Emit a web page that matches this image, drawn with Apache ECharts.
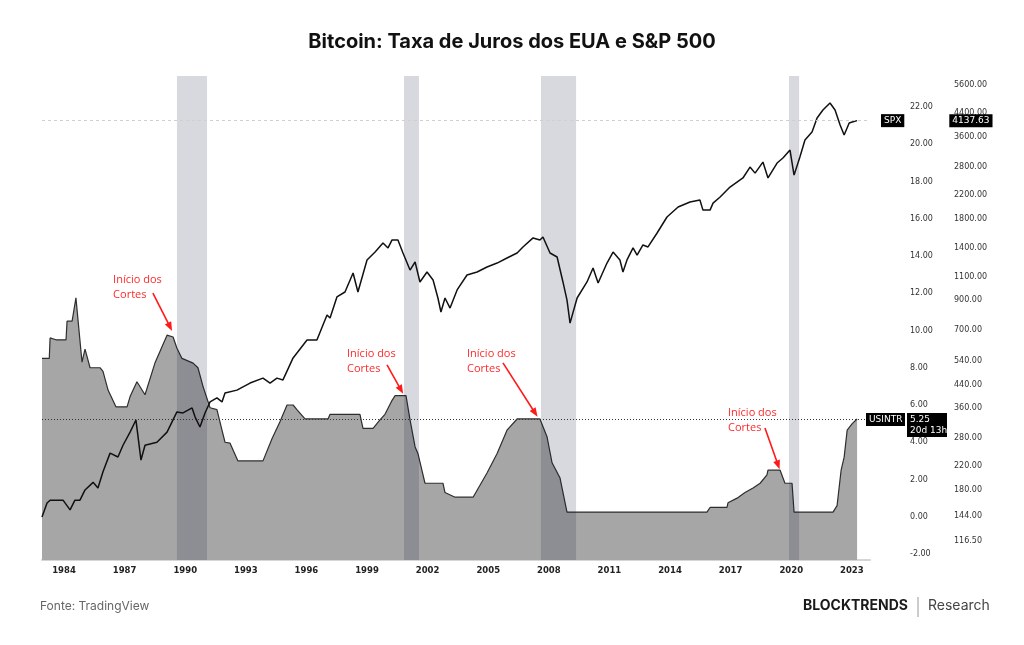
<!DOCTYPE html>
<html>
<head>
<meta charset="utf-8">
<title>Bitcoin: Taxa de Juros dos EUA e S&P 500</title>
<script src="https://cdn.jsdelivr.net/npm/echarts@6/dist/echarts.min.js"></script>
<style>
  html, body { margin: 0; padding: 0; background: #fff; }
  #main { width: 1024px; height: 645px; }
</style>
</head>
<body>
<div id="main"></div>
<script>
// taxa de juros dos EUA (USINTR), anos decimais
var rateYears = [1982.91, 1983.27, 1983.31, 1983.60, 1984.10, 1984.15, 1984.40, 1984.59, 1984.89, 1985.04,
  1985.29, 1985.78, 1985.93, 1986.18, 1986.57, 1987.12, 1987.27, 1987.61, 1988.01, 1988.50,
  1989.10, 1989.40, 1989.59, 1989.84, 1990.39, 1990.63, 1990.88, 1991.23, 1991.57, 1991.82,
  1991.97, 1992.22, 1992.61, 1993.85, 1994.30, 1994.69, 1995.04, 1995.34, 1995.53, 1995.93,
  1997.07, 1997.17, 1998.65, 1998.80, 1999.30, 1999.64, 1999.89, 2000.24, 2000.39, 2000.93,
  2001.13, 2001.38, 2001.52, 2001.87, 2002.76, 2002.86, 2003.36, 2004.25, 2004.94, 2005.44,
  2005.93, 2006.43, 2007.56, 2007.91, 2008.16, 2008.55, 2008.90, 2015.83, 2015.98, 2016.82,
  2016.87, 2017.32, 2017.71, 2018.11, 2018.46, 2018.80, 2018.85, 2019.45, 2019.69, 2020.04,
  2020.14, 2022.07, 2022.27, 2022.47, 2022.62, 2022.77, 2023.02, 2023.26];
var rateValues = [8.5, 8.5, 9.6, 9.5, 9.5, 10.5, 10.5, 11.75, 8.3, 9.0,
  8.0, 8.0, 7.8, 6.8, 5.9, 5.9, 6.45, 7.25, 6.55, 8.25,
  9.75, 9.65, 9.05, 8.5, 8.25, 8.0, 7.0, 5.85, 5.75, 4.65,
  4.0, 3.95, 3.0, 3.0, 4.2, 5.1, 6.0, 6.0, 5.75, 5.25,
  5.25, 5.5, 5.5, 4.75, 4.75, 5.2, 5.5, 6.25, 6.5, 6.5,
  5.2, 3.75, 3.4, 1.8, 1.8, 1.3, 1.05, 1.05, 2.35, 3.4,
  4.65, 5.25, 5.25, 4.3, 2.9, 2.1, 0.25, 0.25, 0.5, 0.5,
  0.75, 1.0, 1.3, 1.55, 1.8, 2.25, 2.5, 2.5, 1.8, 1.8,
  0.25, 0.25, 0.6, 2.5, 3.2, 4.65, 5.0, 5.25];

// S&P 500 (SPX)
var spxYears = [1982.91, 1983.16, 1983.31, 1983.95, 1984.30, 1984.54, 1984.79, 1985.04, 1985.44, 1985.68,
  1985.93, 1986.28, 1986.67, 1986.92, 1987.27, 1987.56, 1987.81, 1988.01, 1988.60, 1989.10,
  1989.59, 1989.89, 1990.34, 1990.49, 1990.73, 1990.98, 1991.23, 1991.57, 1991.82, 1991.97,
  1992.56, 1993.21, 1993.85, 1994.20, 1994.54, 1994.84, 1995.34, 1996.03, 1996.52, 1997.02,
  1997.17, 1997.51, 1997.91, 1998.31, 1998.55, 1999.00, 1999.40, 1999.79, 2000.04, 2000.24,
  2000.53, 2000.78, 2001.13, 2001.38, 2001.62, 2001.97, 2002.27, 2002.51, 2002.66, 2002.86,
  2003.11, 2003.46, 2003.95, 2004.45, 2004.94, 2005.44, 2005.93, 2006.43, 2006.72, 2007.22,
  2007.56, 2007.71, 2008.06, 2008.41, 2008.70, 2008.90, 2009.05, 2009.40, 2009.89, 2010.19,
  2010.44, 2010.88, 2011.18, 2011.52, 2011.67, 2011.87, 2012.17, 2012.37, 2012.66, 2012.91,
  2013.36, 2013.85, 2014.40, 2014.99, 2015.48, 2015.63, 2015.98, 2016.13, 2016.48, 2016.97,
  2017.61, 2017.96, 2018.21, 2018.60, 2018.85, 2019.30, 2019.59, 2019.94, 2020.14, 2020.43,
  2020.68, 2021.03, 2021.28, 2021.57, 2021.92, 2022.17, 2022.42, 2022.62, 2022.87, 2023.02,
  2023.26];
var spxValues = [143, 161, 165, 165, 152, 165, 165, 180, 192, 183,
  210, 246, 238, 263, 294, 326, 232, 263, 270, 294,
  349, 346, 361, 334, 307, 346, 380, 393, 380, 410,
  420, 446, 465, 446, 465, 458, 552, 643, 643, 795,
  775, 926, 966, 1135, 966, 1268, 1356, 1465, 1404, 1503,
  1503, 1345, 1164, 1246, 1052, 1145, 1070, 918, 815, 918,
  843, 983, 1116, 1145, 1194, 1235, 1289, 1345, 1416, 1529,
  1503, 1541, 1345, 1300, 1052, 902, 742, 918, 1052, 1185,
  1043, 1235, 1356, 1268, 1145, 1268, 1404, 1322, 1440, 1416,
  1594, 1826, 1988, 2074, 2110, 1936, 1936, 2055, 2163, 2355,
  2543, 2789, 2650, 2910, 2543, 2887, 3013, 3223, 2605, 3040,
  3512, 3759, 4232, 4529, 4808, 4529, 3987, 3664, 4055, 4090,
  4137.63];

// recessoes (inicio, fim)
var recessionStart = [1989.59, 2000.83, 2007.61, 2019.89];
var recessionEnd = [1991.08, 2001.57, 2009.35, 2020.39];

// anotacoes "Inicio dos Cortes": texto e seta (ano, taxa)
var noteText = [[1986.43, 13.13], [1998.01, 9.17], [2003.95, 9.17], [2016.87, 6.0]];
var arrowFrom = [[1988.40, 12.01], [1999.99, 8.15], [2005.73, 8.26], [2018.70, 4.77]];
var arrowTo = [[1989.25, 10.19], [2000.68, 6.81], [2007.32, 5.57], [2019.35, 2.78]];

var yearTicks = [1984, 1987, 1990, 1993, 1996, 1999, 2002, 2005, 2008, 2011, 2014, 2017, 2020, 2023];
var rateTicks = [-2, 0, 2, 4, 6, 8, 10, 12, 14, 16, 18, 20, 22];
var spxTicks = [116.5, 144, 180, 220, 280, 360, 440, 540, 700, 900, 1100, 1400, 1800, 2200, 2800, 3600, 4400, 5600];

var spxLast = 4137.63;
var rateLast = 5.25;

var chart = echarts.init(document.getElementById('main'));

var tagFont = 'DejaVu Sans';

var option = {
  backgroundColor: '#fff',
  animation: false,
  title: {
    text: 'Bitcoin: Taxa de Juros dos EUA e S&P 500',
    left: 'center',
    top: 27,
    textStyle: { fontFamily: 'Inter', fontWeight: 'bold', fontSize: 20, color: '#111' }
  },
  grid: { left: 42, right: 154, top: 76, bottom: 85 },
  xAxis: {
    type: 'value',
    min: 1982.91,
    max: 2023.9,
    splitLine: { show: false },
    axisTick: { show: false },
    axisLine: { show: true, onZero: false, lineStyle: { color: '#d6d6d6', width: 2 } },
    axisLabel: {
      customValues: yearTicks,
      margin: 6,
      fontFamily: tagFont,
      fontSize: 8.5,
      fontWeight: 'bold',
      color: '#222',
      formatter: function (v) { return String(v); }
    }
  },
  yAxis: [
    {
      type: 'value',
      position: 'right',
      min: -2.32,
      max: 23.66,
      splitLine: { show: false },
      axisLine: { show: false },
      axisTick: { show: false },
      axisLabel: {
        customValues: rateTicks,
        margin: 40,
        fontFamily: tagFont,
        fontSize: 8,
        color: '#333',
        formatter: function (v) { return v.toFixed(2); }
      }
    },
    {
      type: 'log',
      position: 'right',
      min: 99.3,
      max: 6044,
      splitLine: { show: false },
      axisLine: { show: false },
      axisTick: { show: false },
      axisLabel: {
        customValues: spxTicks,
        margin: 84,
        fontFamily: tagFont,
        fontSize: 8,
        color: '#333',
        formatter: function (v) { return v.toFixed(2); }
      }
    }
  ],
  series: [
    {
      name: 'USINTR',
      type: 'line',
      yAxisIndex: 0,
      z: 2,
      symbol: 'none',
      data: rateYears.map(function (y, i) { return [y, rateValues[i]]; }),
      lineStyle: { color: '#2e2e2e', width: 1.2 },
      areaStyle: { color: '#a6a6a6', opacity: 1, origin: 'start' },
      markLine: {
        silent: true,
        symbol: 'none',
        lineStyle: { color: '#333', type: [1, 2], width: 1 },
        label: {
          position: 'end',
          distance: -4,
          padding: [13, 0, 0, 0],
          formatter: '{a|USINTR}{g|}{b|' + rateLast.toFixed(2) + '}\n{s|}{g|}{c|20d 13h}',
          rich: {
            a: { backgroundColor: '#000', color: '#fff', fontFamily: tagFont, fontSize: 9, width: 33, padding: [2, 3], lineHeight: 12 },
            g: { width: 2 },
            b: { backgroundColor: '#000', color: '#fff', fontFamily: tagFont, fontSize: 9, width: 34, padding: [2, 3], lineHeight: 12 },
            s: { width: 33, padding: [0, 3] },
            c: { backgroundColor: '#000', color: '#fff', fontFamily: tagFont, fontSize: 9, width: 34, padding: [0, 3, 2, 3], lineHeight: 12 }
          }
        },
        data: [{ yAxis: rateLast }]
      }
    },
    {
      name: 'Recessoes',
      type: 'line',
      yAxisIndex: 0,
      z: 3,
      data: [],
      markArea: {
        silent: true,
        z: 3,
        itemStyle: { color: 'rgba(14, 20, 50, 0.16)' },
        data: recessionStart.map(function (s, i) { return [{ xAxis: s }, { xAxis: recessionEnd[i] }]; })
      }
    },
    {
      name: 'SPX',
      type: 'line',
      yAxisIndex: 1,
      z: 4,
      symbol: 'none',
      data: spxYears.map(function (y, i) { return [y, spxValues[i]]; }),
      lineStyle: { color: '#111', width: 1.5 },
      markLine: {
        silent: true,
        symbol: 'none',
        lineStyle: { color: '#cfcfcf', type: [3, 3], width: 1 },
        label: {
          position: 'end',
          distance: 11,
          formatter: '{a|SPX}{g|}{b|' + spxLast.toFixed(2) + '}',
          rich: {
            a: { backgroundColor: '#000', color: '#fff', fontFamily: tagFont, fontSize: 9, padding: [2, 3], lineHeight: 12 },
            g: { width: 45 },
            b: { backgroundColor: '#000', color: '#fff', fontFamily: tagFont, fontSize: 9, padding: [2, 3], lineHeight: 12 }
          }
        },
        data: [{ yAxis: spxLast }]
      }
    },
    {
      name: 'Anotacoes',
      type: 'line',
      yAxisIndex: 0,
      z: 5,
      data: [],
      markLine: {
        silent: true,
        z: 5,
        symbol: ['none', 'triangle'],
        symbolSize: [7, 9],
        lineStyle: { color: '#ff1a1a', type: 'solid', width: 1.6 },
        label: { show: false },
        data: arrowFrom.map(function (p, i) { return [{ coord: p }, { coord: arrowTo[i] }]; })
      },
      markPoint: {
        silent: true,
        z: 5,
        symbol: 'circle',
        symbolSize: 0,
        label: {
          show: true,
          position: [0, 0],
          align: 'left',
          verticalAlign: 'top',
          formatter: 'Início dos\nCortes',
          fontFamily: 'Open Sans',
          fontSize: 11,
          lineHeight: 15,
          color: '#ff2a2a'
        },
        data: noteText.map(function (p) { return { coord: p }; })
      }
    }
  ],
  graphic: [
    { type: 'text', left: 40, top: 600, style: { text: 'Fonte: TradingView', fontFamily: 'Inter', fontSize: 12, fill: '#666' } },
    { type: 'text', left: 803, top: 599, style: { text: 'BLOCKTRENDS', fontFamily: 'Inter', fontWeight: 'bold', fontSize: 14, fill: '#1a1a1a' } },
    { type: 'line', shape: { x1: 918, y1: 597, x2: 918, y2: 617 }, style: { stroke: '#999', lineWidth: 1 } },
    { type: 'text', left: 928, top: 599, style: { text: 'Research', fontFamily: 'Inter', fontSize: 14, fill: '#444' } }
  ]
};

chart.setOption(option);
</script>
</body>
</html>
